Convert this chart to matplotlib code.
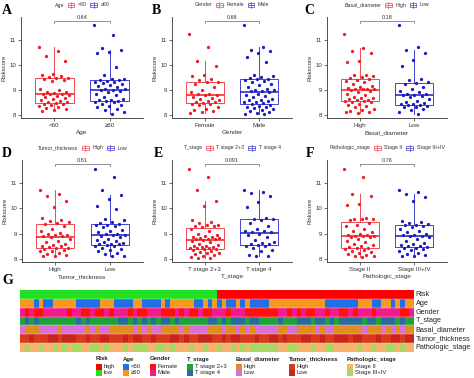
import matplotlib
matplotlib.use('Agg')
import matplotlib.pyplot as plt
import numpy as np
from matplotlib.colors import to_rgb
from matplotlib.offsetbox import TextArea, DrawingArea, HPacker, AnchoredOffsetbox
from matplotlib.patches import Rectangle
from matplotlib.lines import Line2D

plt.rcParams['font.family'] = ['Liberation Sans', 'DejaVu Sans']

# ---------------- data: box plots ----------------
age_labels = ['<60', '≥60']
age_lt60 = [10.70, 10.55, 10.35, 10.15, 9.62, 9.58, 9.55, 9.50, 9.48, 9.47, 9.45, 9.40, 9.35,
            9.05, 9.00, 8.92, 8.90, 8.88, 8.85, 8.84, 8.82, 8.80, 8.75, 8.70, 8.66, 8.62, 8.58,
            8.55, 8.52, 8.50, 8.48, 8.45, 8.42, 8.38, 8.35, 8.30, 8.26, 8.22, 8.18, 8.15]
age_ge60 = [11.58, 11.20, 10.68, 10.60, 10.50, 10.45, 9.90, 9.60, 9.45, 9.42, 9.40, 9.38, 9.35,
            9.33, 9.30, 9.28, 9.25, 9.20, 9.15, 9.10, 9.05, 9.02, 9.00, 8.98, 8.95, 8.90, 8.85,
            8.80, 8.72, 8.65, 8.60, 8.58, 8.56, 8.55, 8.52, 8.50, 8.45, 8.40, 8.35, 8.30, 8.25,
            8.20, 8.12, 8.05]
age_p = '0.64'

gender_labels = ['Female', 'Male']
gender_female = [11.22, 10.70, 10.13, 9.95, 9.60, 9.55, 9.45, 9.38, 9.33, 9.30, 9.25, 9.10, 9.00,
                 8.92, 8.85, 8.82, 8.80, 8.78, 8.72, 8.68, 8.65, 8.60, 8.56, 8.52, 8.50, 8.48,
                 8.45, 8.42, 8.38, 8.33, 8.25, 8.20, 8.15, 8.10, 8.08]
gender_male = [11.58, 10.70, 10.60, 10.55, 10.48, 10.30, 10.10, 9.60, 9.55, 9.50, 9.47, 9.45, 9.43,
               9.40, 9.35, 9.30, 9.25, 9.20, 9.10, 9.05, 9.00, 8.98, 8.97, 8.95, 8.90, 8.85, 8.80,
               8.75, 8.70, 8.65, 8.60, 8.58, 8.55, 8.52, 8.50, 8.48, 8.45, 8.40, 8.35, 8.32, 8.30,
               8.28, 8.25, 8.20, 8.15, 8.10, 8.07, 8.05, 8.03]
gender_p = '0.66'

basal_labels = ['High', 'Low']
basal_high = [11.23, 10.65, 10.55, 10.48, 10.15, 10.12, 9.60, 9.58, 9.56, 9.52, 9.48, 9.45, 9.40,
              9.35, 9.30, 9.25, 9.15, 9.10, 9.08, 9.05, 9.04, 9.03, 9.02, 9.00, 8.95, 8.90, 8.85,
              8.80, 8.72, 8.68, 8.66, 8.63, 8.60, 8.58, 8.57, 8.55, 8.52, 8.50, 8.45, 8.40, 8.35,
              8.30, 8.25, 8.18, 8.15, 8.10, 8.08, 8.12]
basal_low = [11.57, 10.70, 10.60, 10.45, 10.20, 9.95, 9.45, 9.40, 9.32, 9.28, 9.25, 9.10, 9.05,
             8.95, 8.90, 8.85, 8.82, 8.80, 8.78, 8.75, 8.70, 8.62, 8.55, 8.50, 8.48, 8.45, 8.42,
             8.40, 8.38, 8.35, 8.32, 8.30, 8.22, 8.18, 8.10, 8.03]
basal_p = '0.18'

thick_labels = ['High', 'Low']
thick_high = [10.70, 10.55, 10.48, 10.30, 10.05, 9.60, 9.55, 9.48, 9.45, 9.42, 9.38, 9.30, 9.20,
              9.10, 9.02, 8.98, 8.95, 8.93, 8.92, 8.90, 8.85, 8.80, 8.72, 8.65, 8.60, 8.55, 8.52,
              8.50, 8.48, 8.45, 8.42, 8.38, 8.35, 8.33, 8.30, 8.25, 8.20, 8.15, 8.12, 8.10]
thick_low = [11.55, 11.24, 10.70, 10.53, 10.35, 10.10, 9.95, 9.58, 9.55, 9.45, 9.40, 9.38, 9.35,
             9.32, 9.30, 9.25, 9.15, 9.10, 9.05, 9.00, 8.97, 8.95, 8.93, 8.90, 8.85, 8.80, 8.75,
             8.70, 8.66, 8.62, 8.60, 8.58, 8.57, 8.55, 8.52, 8.50, 8.45, 8.40, 8.35, 8.30, 8.25,
             8.18, 8.12, 8.10]
thick_p = '0.81'

tstage_labels = ['T stage 2+3', 'T stage 4']
tstage_23 = [11.55, 11.22, 10.70, 10.30, 10.09, 9.55, 9.45, 9.40, 9.35, 9.32, 9.30, 9.28, 9.25,
             9.20, 9.10, 9.00, 8.95, 8.90, 8.87, 8.85, 8.83, 8.81, 8.80, 8.79, 8.78, 8.75, 8.70,
             8.65, 8.60, 8.55, 8.52, 8.50, 8.48, 8.46, 8.45, 8.44, 8.42, 8.40, 8.38, 8.35, 8.30,
             8.28, 8.25, 8.22, 8.20, 8.15, 8.12, 8.08, 8.05, 8.03]
tstage_4 = [10.70, 10.62, 10.58, 10.50, 10.25, 10.05, 9.60, 9.58, 9.56, 9.55, 9.40, 9.30, 9.20,
            9.12, 9.10, 9.08, 9.05, 9.00, 8.95, 8.85, 8.75, 8.65, 8.62, 8.60, 8.58, 8.55, 8.52,
            8.50, 8.45, 8.35, 8.30, 8.15, 8.12, 8.10]
tstage_p = '0.091'

path_labels = ['Stage II', 'Stage III+IV']
path_2 = [11.55, 11.22, 10.55, 10.50, 10.15, 10.12, 9.60, 9.58, 9.57, 9.56, 9.55, 9.40, 9.35,
          9.30, 9.20, 9.10, 9.05, 9.00, 8.95, 8.93, 8.92, 8.91, 8.90, 8.88, 8.85, 8.80, 8.72,
          8.65, 8.60, 8.55, 8.50, 8.48, 8.45, 8.42, 8.38, 8.35, 8.30, 8.28, 8.25, 8.20, 8.15,
          8.12, 8.10, 8.07]
path_34 = [10.70, 10.65, 10.55, 10.45, 10.30, 9.50, 9.45, 9.42, 9.38, 9.35, 9.33, 9.30, 9.25,
           9.20, 9.10, 9.05, 9.00, 8.95, 8.93, 8.92, 8.90, 8.85, 8.78, 8.70, 8.62, 8.58, 8.55,
           8.52, 8.50, 8.48, 8.45, 8.42, 8.40, 8.35, 8.30, 8.25, 8.20, 8.15, 8.12, 8.10]
path_p = '0.76'

# ---------------- data: heatmap (run lengths, ordered by risk score) ----------------
hm_rows = ['Risk', 'Age', 'Gender', 'T_stage', 'Basal_diameter', 'Tumor_thickness', 'Pathologic_stage']
risk_runs = [('low', 42), ('high', 42)]
age_runs = [('ge', 3), ('lt', 1), ('ge', 1), ('lt', 2), ('ge', 5), ('lt', 5), ('ge', 3), ('lt', 4),
            ('ge', 2), ('lt', 4), ('ge', 1), ('lt', 1), ('ge', 5), ('lt', 2), ('ge', 1), ('lt', 1),
            ('ge', 1), ('lt', 1), ('ge', 1), ('lt', 2), ('ge', 1), ('lt', 1), ('ge', 1), ('lt', 4),
            ('ge', 12), ('lt', 7), ('ge', 3), ('lt', 2), ('ge', 2), ('lt', 1), ('ge', 1), ('lt', 1),
            ('ge', 2)]
gender_runs = [('M', 1), ('F', 1), ('M', 1), ('F', 2), ('M', 5), ('F', 1), ('M', 2), ('F', 2),
               ('M', 1), ('F', 2), ('M', 1), ('F', 1), ('M', 3), ('F', 1), ('M', 1), ('F', 2),
               ('M', 3), ('F', 3), ('M', 1), ('F', 1), ('M', 1), ('F', 2), ('M', 1), ('F', 2),
               ('M', 3), ('F', 1), ('M', 3), ('F', 7), ('M', 2), ('F', 1), ('M', 1), ('F', 1),
               ('M', 1), ('F', 2), ('M', 2), ('F', 1), ('M', 2), ('F', 2), ('M', 1), ('F', 1),
               ('M', 3), ('F', 1), ('M', 5), ('F', 2), ('M', 1)]
tstage_runs = [('23', 1), ('4', 1), ('23', 1), ('4', 1), ('23', 8), ('4', 1), ('23', 1), ('4', 1),
               ('23', 6), ('4', 2), ('23', 1), ('4', 1), ('23', 1), ('4', 1), ('23', 1), ('4', 1),
               ('23', 1), ('4', 2), ('23', 1), ('4', 1), ('23', 6), ('4', 2), ('23', 1), ('4', 1),
               ('23', 1), ('4', 3), ('23', 1), ('4', 2), ('23', 4), ('4', 1), ('23', 3), ('4', 3),
               ('23', 1), ('4', 2), ('23', 1), ('4', 1), ('23', 1), ('4', 5), ('23', 1), ('4', 2),
               ('23', 1), ('4', 3), ('23', 1), ('4', 1), ('23', 2)]
basal_runs = [('L', 1), ('H', 3), ('L', 4), ('H', 1), ('L', 5), ('H', 1), ('L', 1), ('H', 1),
              ('L', 2), ('H', 5), ('L', 1), ('H', 1), ('L', 1), ('H', 1), ('L', 2), ('H', 4),
              ('L', 1), ('H', 1), ('L', 4), ('H', 3), ('L', 1), ('H', 2), ('L', 1), ('H', 1),
              ('L', 1), ('H', 1), ('L', 5), ('H', 2), ('L', 2), ('H', 4), ('L', 1), ('H', 1),
              ('L', 2), ('H', 6), ('L', 1), ('H', 3), ('L', 1), ('H', 1), ('L', 1), ('H', 1),
              ('L', 1), ('H', 2)]
thick_runs = [('H', 2), ('L', 1), ('H', 3), ('L', 2), ('H', 1), ('L', 3), ('H', 2), ('L', 1),
              ('H', 2), ('L', 2), ('H', 3), ('L', 1), ('H', 1), ('L', 2), ('H', 2), ('L', 1),
              ('H', 3), ('L', 2), ('H', 1), ('L', 1), ('H', 2), ('L', 3), ('H', 2), ('L', 1),
              ('H', 1), ('L', 2), ('H', 3), ('L', 1), ('H', 2), ('L', 2), ('H', 1), ('L', 1),
              ('H', 3), ('L', 2), ('H', 2), ('L', 1), ('H', 2), ('L', 3), ('H', 1), ('L', 2),
              ('H', 3), ('L', 1), ('H', 2), ('L', 2), ('H', 1), ('L', 2)]
path_runs = [('II', 1), ('III', 1), ('II', 2), ('III', 1), ('II', 2), ('III', 1), ('II', 1), ('III', 1),
             ('II', 1), ('III', 2), ('II', 2), ('III', 2), ('II', 1), ('III', 1), ('II', 3), ('III', 1),
             ('II', 1), ('III', 3), ('II', 2), ('III', 2), ('II', 1), ('III', 1), ('II', 3), ('III', 1),
             ('II', 2), ('III', 1), ('II', 2), ('III', 1), ('II', 2), ('III', 1), ('II', 1), ('III', 1),
             ('II', 1), ('III', 6), ('II', 2), ('III', 2), ('II', 3), ('III', 1), ('II', 2), ('III', 2),
             ('II', 5), ('III', 1), ('II', 2), ('III', 1), ('II', 2), ('III', 2), ('II', 1), ('III', 1),
             ('II', 2)]

# colours
RED, BLUE = '#EE1C25', '#1C1CC0'
BOX_RED, BOX_BLUE = '#F04A50', '#4444D0'
hm_colors = {
    'Risk': {'high': '#FF0000', 'low': '#22E022'},
    'Age': {'lt': '#1F6FEB', 'ge': '#F39A1E'},
    'Gender': {'F': '#FF1010', 'M': '#F01C8C'},
    'T_stage': {'23': '#1FA23A', '4': '#2C6A9C'},
    'Basal_diameter': {'H': '#E08C1E', 'L': '#DA6FD8'},
    'Tumor_thickness': {'H': '#DA3A1C', 'L': '#C8261C'},
    'Pathologic_stage': {'II': '#F5B46C', 'III': '#A6D862'},
}
hm_runs = {'Risk': risk_runs, 'Age': age_runs, 'Gender': gender_runs, 'T_stage': tstage_runs,
           'Basal_diameter': basal_runs, 'Tumor_thickness': thick_runs, 'Pathologic_stage': path_runs}
hm_legend = [
    ('Risk', [('high', 'high'), ('low', 'low')], 96),
    ('Age', [('lt', '<60'), ('ge', '≥60')], 123),
    ('Gender', [('F', 'Female'), ('M', 'Male')], 150),
    ('T_stage', [('23', 'T stage 2+3'), ('4', 'T stage 4')], 187),
    ('Basal_diameter', [('H', 'High'), ('L', 'Low')], 236),
    ('Tumor_thickness', [('H', 'High'), ('L', 'Low')], 289),
    ('Pathologic_stage', [('II', 'Stage II'), ('III', 'Stage III+IV')], 347),
]

# ---------------- figure ----------------
W, H = 474, 378
fig = plt.figure(figsize=(W / 100, H / 100), dpi=100)


def px_axes(l, t, r, b):
    return fig.add_axes([l / W, 1 - b / H, (r - l) / W, (b - t) / H])


def key_box(color):
    da = DrawingArea(6, 5, 0, 0)
    da.add_artist(Rectangle((0.6, 0.8), 4.8, 3.4, fc='white', ec=color, lw=0.5))
    da.add_artist(Line2D([0.6, 5.4], [2.5, 2.5], color=color, lw=0.5))
    da.add_artist(Line2D([3, 3], [0.0, 5.0], color=color, lw=0.5))
    return da


panels = [
    ('A', 'Age', age_labels, [age_lt60, age_ge60], age_p, (21, 17, 143, 118), (2, 14)),
    ('B', 'Gender', gender_labels, [gender_female, gender_male], gender_p, (172, 17, 292, 118), (152, 14)),
    ('C', 'Basal_diameter', basal_labels, [basal_high, basal_low], basal_p, (327, 17, 447, 118), (304, 14)),
    ('D', 'Tumor_thickness', thick_labels, [thick_high, thick_low], thick_p, (22, 160, 143, 262), (2, 157)),
    ('E', 'T_stage', tstage_labels, [tstage_23, tstage_4], tstage_p, (172, 160, 292, 262), (154, 157)),
    ('F', 'Pathologic_stage', path_labels, [path_2, path_34], path_p, (327, 160, 447, 262), (306, 157)),
]

overlay = fig.add_axes([0, 0, 1, 1], zorder=-1)
overlay.set_xlim(0, W)
overlay.set_ylim(H, 0)
overlay.axis('off')

for letter, var, labels, groups, pval, rect, lpos in panels:
    l, t, r, b = rect
    ax = px_axes(l, t, r, b)
    cols = [RED, BLUE]
    bcols = [BOX_RED, BOX_BLUE]
    for gi, (vals, c, bc) in enumerate(zip(groups, cols, bcols)):
        pos = gi + 1
        ax.boxplot([vals], positions=[pos], widths=0.7, whis=1.5, showfliers=False,
                   patch_artist=True, showcaps=False,
                   boxprops=dict(facecolor='none', edgecolor=bc, lw=0.7),
                   whiskerprops=dict(color=bc, lw=0.7),
                   medianprops=dict(color=c, lw=1.1))
        n = len(vals)
        jit = ((np.arange(n) * 0.6180339887) % 1.0 - 0.5) * 0.56
        ax.scatter(pos + jit, vals, s=5.5, color=c, lw=0, zorder=3)
    ax.set_xlim(0.4, 2.6)
    ax.set_ylim(7.88, 11.9)
    ax.set_yticks([8, 9, 10, 11])
    ax.set_xticks([1, 2])
    ax.set_xticklabels(labels)
    for s in ['top', 'right']:
        ax.spines[s].set_visible(False)
    for s in ['left', 'bottom']:
        ax.spines[s].set_linewidth(0.6)
        ax.spines[s].set_color('#333333')
    ax.tick_params(labelsize=4.4, length=2, width=0.5, pad=1.5, colors='#333333')
    ax.set_ylabel('Riskscore', fontsize=4.3, labelpad=2, color='#333333')
    ax.set_xlabel(var, fontsize=4.6, labelpad=1.5, color='#333333')
    # comparison bracket
    ax.plot([1, 1, 2, 2], [11.65, 11.73, 11.73, 11.65], color='#666666', lw=0.5, clip_on=False)
    ax.text(1.5, 11.77, pval, ha='center', va='bottom', fontsize=4.0, color='#333333', clip_on=False)
    # legend above
    tp = dict(fontsize=3.8, color='#333333')
    box = HPacker(children=[TextArea(var, textprops=tp), key_box(BOX_RED), TextArea(labels[0], textprops=tp),
                            key_box(BOX_BLUE), TextArea(labels[1], textprops=tp)],
                  align='center', pad=0, sep=2)
    anc = AnchoredOffsetbox(loc='center', child=box, pad=0, borderpad=0, frameon=False,
                            bbox_to_anchor=((l + r) / 2 / W, 1 - (t - 12) / H),
                            bbox_transform=fig.transFigure)
    fig.add_artist(anc)
    fig.text(lpos[0] / W, 1 - lpos[1] / H, letter, fontsize=10, fontweight='bold',
             family=['Liberation Serif', 'DejaVu Serif'], ha='left', va='baseline')

# ---------------- heatmap ----------------
fig.text(2 / W, 1 - 284 / H, 'G', fontsize=10, fontweight='bold',
         family=['Liberation Serif', 'DejaVu Serif'], ha='left', va='baseline')
hax = px_axes(20, 290, 414, 352)
img = []
for row in hm_rows:
    rgb = []
    for code, cnt in hm_runs[row]:
        rgb += [to_rgb(hm_colors[row][code])] * cnt
    img.append(rgb)
ncol = max(len(r) for r in img)
img = np.array([r + [r[-1]] * (ncol - len(r)) for r in img])
hax.imshow(img, aspect='auto', interpolation='nearest', extent=(0, ncol, len(hm_rows), 0))
for k in range(1, len(hm_rows)):
    hax.axhline(k, color='white', lw=0.3, alpha=0.8)
hax.set_xticks([])
hax.set_yticks([])
for s in hax.spines.values():
    s.set_visible(False)
for k, row in enumerate(hm_rows):
    hax.text(ncol + 0.35, k + 0.5, row, fontsize=5.2, va='center', ha='left', color='#222222',
             clip_on=False)

for title, items, x0 in hm_legend:
    overlay.text(x0, 359, title, fontsize=4.3, fontweight='bold', va='center', ha='left', color='#222222')
    for j, (code, lab) in enumerate(items):
        y0 = 363.5 + j * 6
        overlay.add_patch(Rectangle((x0, y0), 6, 6, facecolor=hm_colors[title][code], edgecolor='none'))
        overlay.text(x0 + 8, y0 + 3, lab, fontsize=4.3, va='center', ha='left', color='#222222')

fig.savefig('out.png', dpi=100)
